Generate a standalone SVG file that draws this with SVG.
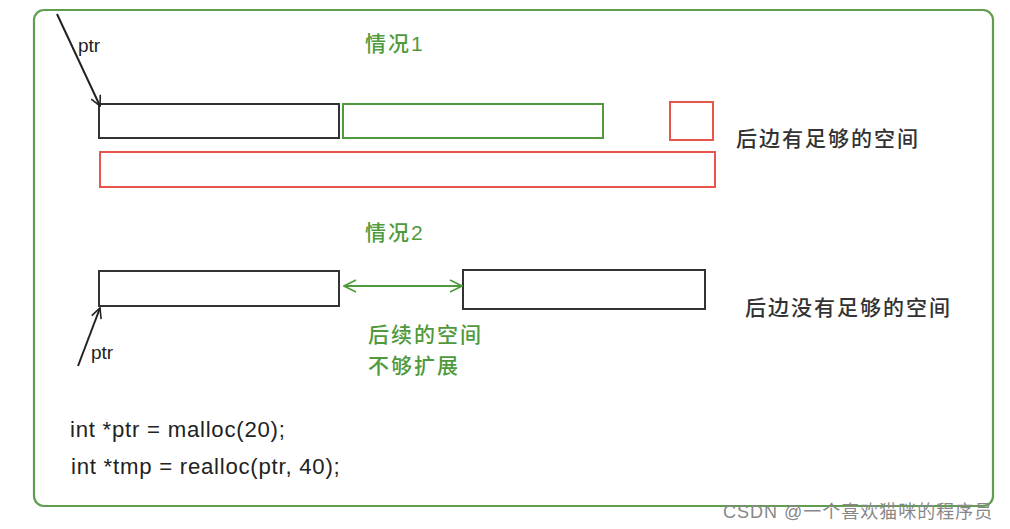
<svg xmlns="http://www.w3.org/2000/svg" width="1010" height="529" viewBox="0 0 1010 529">
<defs>
<style>
.frame{fill:#fff;stroke:#5f9e4e;stroke-width:2.2}
.blk{fill:#fff;stroke:#333;stroke-width:2}
.grn{fill:#fff;stroke:#4f9a3c;stroke-width:2}
.red{fill:#fff;stroke:#e8554a;stroke-width:2}
.cn{font-family:"Liberation Sans","Noto Sans CJK SC",sans-serif;font-size:21px;letter-spacing:2px;font-weight:500}
.g{fill:#4f9a3c}
.d{fill:#333}
.lat{font-family:"Liberation Sans",Arial,sans-serif;fill:#222}
.code{font-size:22.2px;letter-spacing:0.75px}
</style>
<marker id="ahb" viewBox="0 0 12 12" refX="11" refY="6" markerWidth="12" markerHeight="12" markerUnits="userSpaceOnUse" orient="auto">
<path d="M1,1 L11,6 L1,11" fill="none" stroke="#222" stroke-width="1.6"/>
</marker>
<marker id="ahg" viewBox="0 0 14 14" refX="13" refY="7" markerWidth="14" markerHeight="14" markerUnits="userSpaceOnUse" orient="auto-start-reverse">
<path d="M1,1 L13,7 L1,13" fill="none" stroke="#4f9a3c" stroke-width="1.6"/>
</marker>
</defs>
<rect class="frame" x="34" y="10" width="959" height="496" rx="10"/>
<g id="case1">
<rect id="c1-old" class="blk" x="99" y="104" width="240" height="34"/>
<rect id="c1-ext" class="grn" x="343" y="104" width="260" height="34"/>
<rect id="c1-small" class="red" x="670" y="102" width="43" height="38"/>
<rect id="c1-new" class="red" x="100" y="152" width="615" height="35"/>
<text id="c1-title" class="cn g" x="365" y="51">情况1</text>
<text id="c1-note" class="cn d" x="736" y="146">后边有足够的空间</text>
<text id="c1-ptr" class="lat" x="78" y="52" font-size="19">ptr</text>
</g>
<g id="case2">
<rect id="c2-old" class="blk" x="99" y="271" width="240" height="35"/>
<rect id="c2-other" class="blk" x="463" y="270" width="242" height="39"/>
<text id="c2-title" class="cn g" x="365" y="240">情况2</text>
<text id="c2-gap1" class="cn g" x="368" y="342">后续的空间</text>
<text id="c2-gap2" class="cn g" x="368" y="373">不够扩展</text>
<text id="c2-note" class="cn d" x="745" y="315">后边没有足够的空间</text>
<text id="c2-ptr" class="lat" x="91" y="359" font-size="19">ptr</text>
</g>
<g id="code">
<text class="lat code" x="70" y="437">int *ptr = malloc(20);</text>
<text class="lat code" x="71" y="474">int *tmp = realloc(ptr, 40);</text>
</g>
<g id="connectors">
<line x1="57" y1="14" x2="100" y2="106" stroke="#222" stroke-width="2" marker-end="url(#ahb)"/>
<line x1="78" y1="366" x2="100" y2="308" stroke="#222" stroke-width="2" marker-end="url(#ahb)"/>
<line x1="344" y1="286" x2="462" y2="286" stroke="#4f9a3c" stroke-width="2" marker-start="url(#ahg)" marker-end="url(#ahg)"/>
</g>
<text x="723" y="518" font-family="Liberation Sans,Noto Sans CJK SC,sans-serif" font-size="18" letter-spacing="1" fill="#888">CSDN @一个喜欢猫咪的程序员</text>
</svg>
